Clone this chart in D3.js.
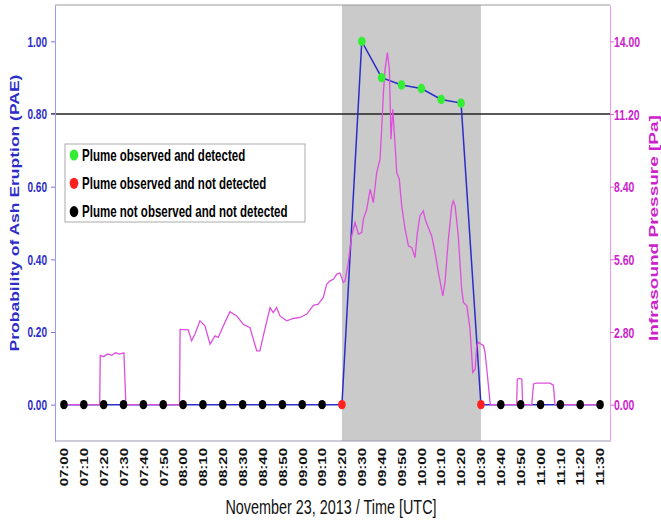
<!DOCTYPE html>
<html>
<head>
<meta charset="utf-8">
<script src="https://cdn.jsdelivr.net/npm/d3@7"></script>
<style>
  body { margin: 0; background: #fff; }
  svg { font-family: "Liberation Sans", Arial, sans-serif; }
</style>
</head>
<body>
<svg id="chart"></svg>
<script>
// data
const timeLabels = ["07:00", "07:10", "07:20", "07:30", "07:40", "07:50", "08:00", "08:10", "08:20", "08:30",
    "08:40", "08:50", "09:00", "09:10", "09:20", "09:30", "09:40", "09:50", "10:00", "10:10",
    "10:20", "10:30", "10:40", "10:50", "11:00", "11:10", "11:20", "11:30"];
// 0 = not observed / not detected, 1 = observed and not detected, 2 = observed and detected
const plumeStatus = [0, 0, 0, 0, 0, 0, 0, 0, 0, 0, 0, 0, 0, 0, 1, 2, 2, 2, 2, 2, 2, 1, 0, 0, 0, 0, 0, 0];
const paeValues = [0, 0, 0, 0, 0, 0, 0, 0, 0, 0, 0, 0, 0, 0, 0, 1.00, 0.90, 0.88, 0.87, 0.84, 0.83, 0, 0, 0, 0, 0, 0, 0];
const paeTicks = [0, 0.2, 0.4, 0.6, 0.8, 1.0];
const pressureTicks = [0, 2.8, 5.6, 8.4, 11.2, 14.0];
const thresholdPAE = 0.80;
const eruptionStart = "09:20";
const eruptionEnd = "10:30";
// infrasound trace: minutes after 07:00 and pressure in Pa
const infraMinute = [0, 18, 18.3, 20, 22, 24, 26, 28, 30.2, 31.2,
    58.2, 58.5, 62.6, 64.3, 66, 68.5, 71, 73.6, 76.1, 77.7, 80.3, 83.6, 87, 90.3, 93.7, 97.1, 98.7,
    100.4, 103.8, 105.4, 107.1, 108.8, 112.2, 115.5, 118.9, 122.3, 125.6, 128.1, 130.6, 132.3, 134,
    135.7, 137.4, 139, 140.7, 141.6, 143.2, 144.9, 146.6, 148.3, 150, 150.8, 152.5, 154.2, 155.8,
    157.5, 159.2, 160, 160.9, 161.7, 162.9, 163.9, 164.7, 165.6, 166.8, 167.6, 168.9, 170.1, 171.8,
    173.5, 175.2, 176.8, 178, 179.3, 181, 181.9, 183.5, 185.2, 186.9, 188.6, 190.8, 191.9, 193.6,
    195.3, 196.1, 197, 198.6, 200.3, 201.2, 202.9, 204.5, 205.9, 207.1, 207.9, 208.8, 211.3, 212.1,
    213.8, 214.7, 228, 228.3, 229.5, 230.6, 231, 235.6, 236.5, 237.8, 244.8, 246.5, 247.3, 270];
const infraPa = [0, 0, 1.9, 1.85, 1.95, 1.9, 2.0, 1.95, 2.0, 0,
    0, 2.9, 2.88, 2.46, 2.72, 3.23, 3.04, 2.33, 2.65, 2.59, 3.04, 3.58, 3.42, 3.10, 2.97, 2.07, 2.07,
    2.65, 3.74, 3.55, 3.74, 3.42, 3.23, 3.32, 3.36, 3.49, 3.83, 3.87, 4.13, 4.64, 4.77,
    4.83, 5.03, 5.07, 4.71, 4.77, 5.48, 6.50, 7.02, 6.57, 6.63, 7.15, 7.53, 8.30, 7.79,
    8.94, 9.46, 10.61, 12.03, 12.92, 13.57, 12.92, 10.23, 11.38, 9.97, 8.94, 8.69, 7.66, 6.76,
    6.12, 6.05, 5.67, 6.63, 7.27, 7.47, 7.15, 6.83, 6.50, 5.86, 5.09, 4.19, 4.71, 6.37,
    7.66, 7.85, 7.66, 6.50, 4.45, 3.94, 3.81, 2.91, 1.24, 1.37, 2.27, 2.40, 2.27, 2.01,
    0.72, 0, 0, 0.98, 1.01, 0.98, 0, 0, 0.80, 0.83, 0.83, 0.75, 0, 0];
const legendLabels = ["Plume observed and detected", "Plume observed and not detected", "Plume not observed and not detected"];

// constants
const width = 661;
const height = 520;
const plot = { left: 55, right: 610, top: 5, bottom: 441 };
const squeeze = 0.72; // the source picture is narrowed, text and dots with it
const statusColor = ["#000000", "#ff2020", "#33ee33"];
const blue = "#2c2cc8";
const magenta = "#cc22cc";

var svg = d3.select('svg#chart').attr('width', width).attr('height', height)

function toMinute(label) {
    var p = label.split(":")
    return (+p[0] - 7) * 60 + (+p[1])
}

var x = d3.scaleLinear().domain([-4.5, 275]).range([plot.left, plot.right])
var yLeft = d3.scaleLinear().domain([-0.1, 1.1]).range([plot.bottom, plot.top])
var yRight = d3.scaleLinear().domain([-1.4, 15.4]).range([plot.bottom, plot.top])

// shaded eruption window
svg.append("rect")
    .attr("x", x(toMinute(eruptionStart)))
    .attr("y", plot.top)
    .attr("width", x(toMinute(eruptionEnd)) - x(toMinute(eruptionStart)))
    .attr("height", plot.bottom - plot.top)
    .attr("fill", "#cacaca")

// top border
svg.append("line")
    .attr("x1", plot.left).attr("x2", plot.right)
    .attr("y1", plot.top).attr("y2", plot.top)
    .attr("stroke", "#999").attr("stroke-width", 1)

// threshold line
svg.append("line")
    .attr("x1", plot.left - 4).attr("x2", plot.right)
    .attr("y1", yLeft(thresholdPAE)).attr("y2", yLeft(thresholdPAE))
    .attr("stroke", "#222").attr("stroke-width", 1.5)

// axes
var xAxis = svg.append("g")
    .attr("transform", "translate(0," + plot.bottom + ")")
    .call(d3.axisBottom(x)
        .tickValues(timeLabels.map(toMinute))
        .tickFormat((d, i) => timeLabels[i])
        .tickSize(0).tickSizeOuter(0))
xAxis.select(".domain").attr("stroke", "#9a9ab4").attr("d", "M" + plot.left + ",0H" + plot.right)
xAxis.selectAll("text")
    .attr("x", 0).attr("y", 0).attr("dy", "0.35em")
    .attr("text-anchor", "end")
    .attr("transform", "translate(0,7) scale(" + squeeze + ",1) rotate(-90)")
    .style("font-size", "15px").style("font-weight", "bold").attr("fill", "#111")

var leftAxis = svg.append("g")
    .attr("transform", "translate(" + plot.left + ",0)")
    .call(d3.axisLeft(yLeft).tickValues(paeTicks).tickFormat(d3.format(".2f")).tickSize(4).tickSizeOuter(0))
leftAxis.select(".domain").attr("stroke", "#9a9aee")
leftAxis.selectAll(".tick line").attr("stroke", "#7777dd")
leftAxis.selectAll("text")
    .attr("x", 0).attr("dy", "0.35em")
    .attr("transform", "translate(-8,0) scale(" + squeeze + ",1)")
    .style("font-size", "14px").style("font-weight", "bold").attr("fill", blue)

var rightAxis = svg.append("g")
    .attr("transform", "translate(" + plot.right + ",0)")
    .call(d3.axisRight(yRight).tickValues(pressureTicks).tickFormat(d3.format(".2f")).tickSize(4).tickSizeOuter(0))
rightAxis.select(".domain").attr("stroke", "#ee9aee")
rightAxis.selectAll(".tick line").attr("stroke", "#dd66dd")
rightAxis.selectAll("text")
    .attr("x", 0).attr("dy", "0.35em")
    .attr("transform", "translate(4,0) scale(" + squeeze + ",1)")
    .style("font-size", "14.5px").style("font-weight", "bold").attr("fill", magenta)

// PAE line (blue)
var paeLine = d3.line()
    .x((d, i) => x(toMinute(timeLabels[i])))
    .y(d => yLeft(d))

svg.append("path")
    .datum(paeValues)
    .attr("d", paeLine)
    .attr("fill", "none")
    .attr("stroke", blue)
    .attr("stroke-width", 1.5)

// infrasound line (magenta)
var infraLine = d3.line()
    .x((d, i) => x(infraMinute[i]))
    .y(d => yRight(d))

svg.append("path")
    .datum(infraPa)
    .attr("d", infraLine)
    .attr("fill", "none")
    .attr("stroke", "#dd4fdd")
    .attr("stroke-width", 1.3)

// dots
svg.append("g")
    .selectAll("ellipse")
    .data(paeValues)
    .enter().append("ellipse")
    .attr("cx", (d, i) => x(toMinute(timeLabels[i])))
    .attr("cy", d => yLeft(d))
    .attr("rx", 3.8)
    .attr("ry", 4.7)
    .attr("fill", (d, i) => statusColor[plumeStatus[i]])

// legend
var legend = svg.append("g")
legend.append("rect")
    .attr("x", 65).attr("y", 144)
    .attr("width", 240).attr("height", 78)
    .attr("fill", "#fff").attr("stroke", "#aaa")

var legendStatus = [2, 1, 0]
legendLabels.forEach(function(label, i) {
    var ly = 155 + i * 28.3
    legend.append("ellipse")
        .attr("cx", 74).attr("cy", ly)
        .attr("rx", 4.3).attr("ry", 5.6)
        .attr("fill", statusColor[legendStatus[i]])
    legend.append("text")
        .attr("transform", "translate(82," + ly + ") scale(" + squeeze + ",1)")
        .attr("dy", "0.36em")
        .style("font-size", "16px").style("font-weight", "bold")
        .text(label)
})

// axis titles
svg.append("text")
    .attr("transform", "translate(15,213) scale(" + squeeze + ",1) rotate(-90)")
    .attr("text-anchor", "middle").attr("dy", "0.35em")
    .style("font-size", "17.5px").style("font-weight", "bold")
    .attr("fill", blue)
    .text("Probability of Ash Eruption (PAE)")

svg.append("text")
    .attr("transform", "translate(653,228) scale(" + squeeze + ",1) rotate(-90)")
    .attr("text-anchor", "middle").attr("dy", "0.35em")
    .style("font-size", "19px").style("font-weight", "bold")
    .attr("fill", magenta)
    .text("Infrasound Pressure [Pa]")

svg.append("text")
    .attr("transform", "translate(331,507) scale(" + squeeze + ",1)")
    .attr("text-anchor", "middle").attr("dy", "0.35em")
    .style("font-size", "20px")
    .attr("fill", "#111")
    .text("November 23, 2013 / Time [UTC]")
</script>
</body>
</html>
